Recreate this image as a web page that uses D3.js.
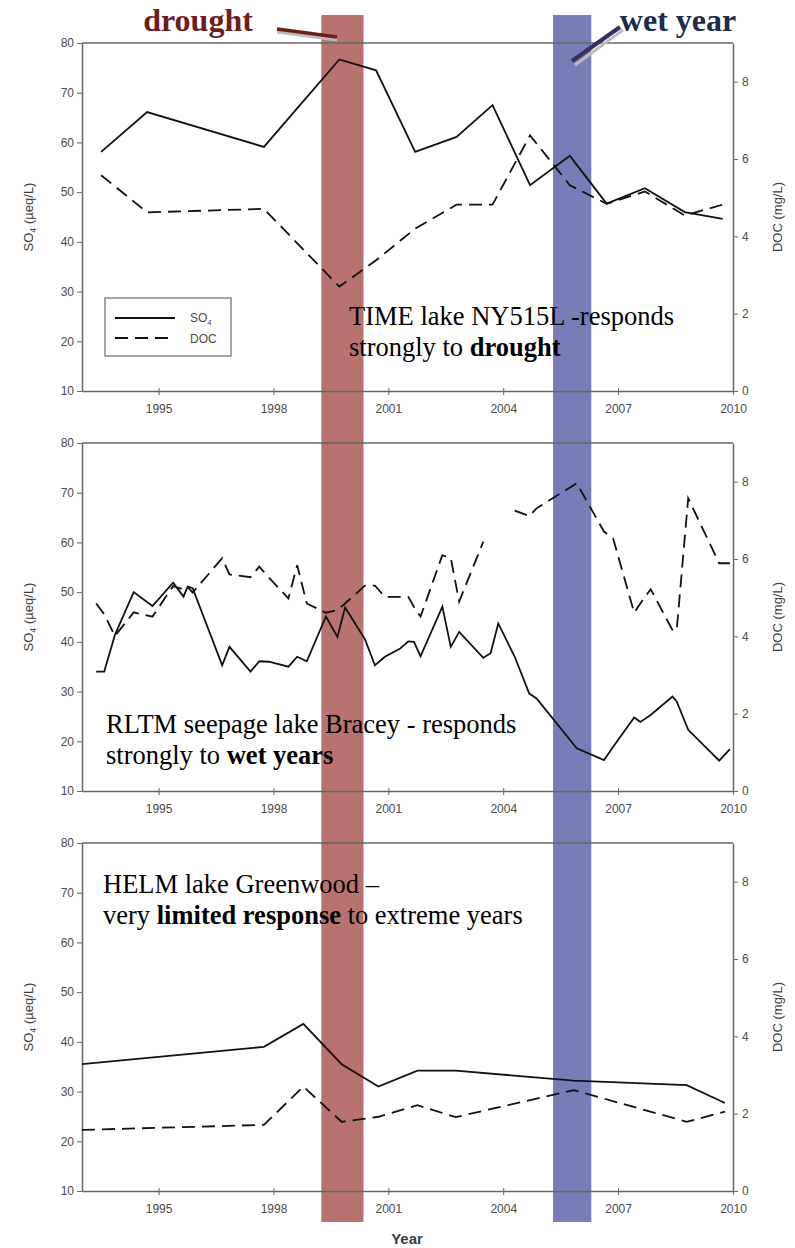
<!DOCTYPE html>
<html>
<head>
<meta charset="utf-8">
<script src="https://cdn.jsdelivr.net/npm/d3@7"></script>
<style>
  html, body { margin: 0; padding: 0; background: #fff; }
  svg { display: block; }
  .tick text { font-family: "Liberation Sans", Arial, sans-serif; font-size: 12px; fill: #4a4a4a; }
  .tick line, .domain { stroke: #666; }
</style>
</head>
<body>
<svg id="chart" width="795" height="1248"></svg>
<script>
// ---- Data -------------------------------------------------------------
const yearTicks = [1995, 1998, 2001, 2004, 2007, 2010];
const so4Ticks = [10, 20, 30, 40, 50, 60, 70, 80];
const docTicks = [0, 2, 4, 6, 8];

// Extreme-year bands (decimal years)
const droughtBand = [1999.25, 2000.35];
const wetBand = [2005.3, 2006.3];

// TIME lake NY515L
const timeYears = [1993.5, 1994.7, 1997.75, 1999.72, 2000.68, 2001.7, 2002.78, 2003.72, 2004.7, 2005.74, 2006.7, 2007.7, 2008.74, 2009.73];
const timeSO4 = [58.1, 66.1, 59.1, 76.7, 74.5, 58.1, 61.1, 67.5, 51.4, 57.3, 47.7, 50.8, 46.0, 44.6];
const timeDOC = [5.58, 4.62, 4.71, 2.70, 3.38, 4.2, 4.82, 4.82, 6.61, 5.32, 4.84, 5.16, 4.54, 4.82];

// RLTM seepage lake Bracey
const rltmYears = [1993.37, 1993.58, 1993.86, 1994.35, 1994.84, 1995.38, 1995.65, 1995.76, 1995.89, 1996.66,
  1996.85, 1997.4, 1997.63, 1997.88, 1998.39, 1998.62, 1998.87, 1999.37, 1999.67, 1999.87,
  2000.39, 2000.65, 2000.91, 2001.3, 2001.52, 2001.67, 2001.84, 2002.41, 2002.63, 2002.85,
  2003.48, 2003.67, 2003.87, 2004.3, 2004.68, 2004.87, 2005.92, 2006.63, 2006.87, 2007.42,
  2007.58, 2007.85, 2008.42, 2008.53, 2008.83, 2009.64, 2009.92];
const rltmSO4 = [34.0, 34.0, 41.4, 50.0, 47.2, 51.9, 49.1, 51.1, 50.8, 35.3,
  39.0, 34.0, 36.1, 36.0, 35.0, 37.0, 36.1, 45.1, 41.0, 46.9,
  40.5, 35.3, 37.0, 38.6, 40.1, 40.0, 37.1, 47.1, 39.0, 42.0,
  36.8, 37.7, 43.7, 37.0, 29.6, 28.6, 18.6, 16.2, 18.9, 24.8,
  23.9, 25.3, 29.0, 28.0, 22.3, 16.1, 18.4];
const rltmDOC = [4.85, 4.57, 4.01, 4.62, 4.51, 5.30, 5.21, 5.28, 5.13, 6.02,
  5.60, 5.53, 5.80, 5.52, 4.98, 5.84, 4.85, 4.61, 4.68, 4.85,
  5.31, 5.31, 5.02, 5.02, 5.02, 4.76, 4.51, 6.10, 6.02, 4.90,
  6.45, null, null, 7.25, 7.11, 7.31, 7.96, 6.71, 6.53, 4.61,
  4.85, 5.22, 4.16, 4.16, 7.57, 5.89, 5.89];

// HELM lake Greenwood
const helmYears = [1993.0, 1997.75, 1998.78, 1999.78, 2000.74, 2001.76, 2002.76, 2005.84, 2008.79, 2009.79];
const helmSO4 = [35.5, 39.0, 43.6, 35.5, 31.0, 34.2, 34.2, 32.2, 31.3, 27.7];
const helmDOC = [1.58, 1.71, 2.70, 1.79, 1.92, 2.22, 1.91, 2.61, 1.79, 2.05];

// ---- Layout -----------------------------------------------------------
const svg = d3.select("#chart");
const left = 82, right = 733, panelH = 348;
const panelTops = [43, 443, 843];
const bandTop = 15, bandBottom = 1222;

const x = d3.scaleLinear().domain([1993, 2010]).range([left, right]);

const panels = [
  { years: timeYears, so4: timeSO4, doc: timeDOC,
    text: [[{t: "TIME lake NY515L -responds"}], [{t: "strongly to "}, {t: "drought", b: true}]],
    tx: 349, ty: 282 },
  { years: rltmYears, so4: rltmSO4, doc: rltmDOC,
    text: [[{t: "RLTM seepage lake Bracey - responds"}], [{t: "strongly to "}, {t: "wet years", b: true}]],
    tx: 106, ty: 290 },
  { years: helmYears, so4: helmSO4, doc: helmDOC,
    text: [[{t: "HELM lake Greenwood \u2013"}], [{t: "very "}, {t: "limited response", b: true}, {t: " to extreme years"}]],
    tx: 103, ty: 50 }
];

// ---- Extreme-year bands -----------------------------------------------
svg.append("rect")
  .attr("x", x(droughtBand[0])).attr("width", x(droughtBand[1]) - x(droughtBand[0]))
  .attr("y", bandTop).attr("height", bandBottom - bandTop)
  .attr("fill", "rgb(184,114,111)");
svg.append("rect")
  .attr("x", x(wetBand[0])).attr("width", x(wetBand[1]) - x(wetBand[0]))
  .attr("y", bandTop).attr("height", bandBottom - bandTop)
  .attr("fill", "rgb(123,123,184)");

// ---- Panels -----------------------------------------------------------
panels.forEach((p, i) => {
  const top = panelTops[i], bottom = top + panelH;
  const yL = d3.scaleLinear().domain([10, 80]).range([bottom, top]);
  const yR = d3.scaleLinear().domain([0, 9]).range([bottom, top]);
  const g = svg.append("g");

  // frame top
  g.append("line").attr("x1", left).attr("x2", right).attr("y1", top).attr("y2", top)
    .attr("stroke", "#666").attr("stroke-width", 1.5);

  // left axis
  g.append("g").attr("transform", `translate(${left},0)`)
    .call(d3.axisLeft(yL).tickValues(so4Ticks).tickSize(5).tickSizeOuter(0).tickPadding(3))
    .call(a => a.select(".domain").attr("stroke-width", 1.5));

  // right axis
  g.append("g").attr("transform", `translate(${right},0)`)
    .call(d3.axisRight(yR).tickValues(docTicks).tickSize(5).tickSizeOuter(0).tickPadding(4))
    .call(a => a.select(".domain").attr("stroke-width", 1.5));

  // bottom axis
  const xa = g.append("g").attr("transform", `translate(0,${bottom})`)
    .call(d3.axisBottom(x).tickValues(yearTicks).tickFormat(d3.format("d")).tickSize(4).tickSizeOuter(0).tickPadding(9))
    .call(a => a.select(".domain").attr("stroke-width", 1.5));
  xa.selectAll(".tick line").attr("y1", -3);

  // axis titles
  const lt = g.append("text")
    .attr("transform", `translate(33,${(top + bottom) / 2}) rotate(-90)`)
    .attr("text-anchor", "middle")
    .attr("font-family", "Liberation Sans, Arial, sans-serif").attr("font-size", 13).attr("fill", "#3c3c3c");
  lt.append("tspan").text("SO");
  lt.append("tspan").text("4").attr("font-size", 9).attr("dy", 3);
  lt.append("tspan").text(" (\u00b5eq/L)").attr("dy", -3);

  g.append("text")
    .attr("transform", `translate(782,${(top + bottom) / 2}) rotate(-90)`)
    .attr("text-anchor", "middle")
    .attr("font-family", "Liberation Sans, Arial, sans-serif").attr("font-size", 13).attr("fill", "#3c3c3c")
    .text("DOC (mg/L)");

  // series lines
  const pts = p.years.map((yr, k) => ({ yr, so4: p.so4[k], doc: p.doc[k] }));
  g.append("path").datum(pts)
    .attr("fill", "none").attr("stroke", "#111").attr("stroke-width", 1.8)
    .attr("d", d3.line().x(d => x(d.yr)).y(d => yL(d.so4)));
  g.append("path").datum(pts)
    .attr("fill", "none").attr("stroke", "#111").attr("stroke-width", 1.8)
    .attr("stroke-dasharray", "13,7")
    .attr("d", d3.line().defined(d => d.doc != null).x(d => x(d.yr)).y(d => yR(d.doc)));

  // panel annotation
  p.text.forEach((line, li) => {
    const t = g.append("text")
      .attr("x", p.tx).attr("y", top + p.ty + li * 31)
      .attr("font-family", "Liberation Serif, Times New Roman, serif").attr("font-size", 26.5).attr("fill", "#000");
    line.forEach(s => t.append("tspan").text(s.t).attr("font-weight", s.b ? "bold" : "normal"));
  });
});

// ---- Legend (first panel) ----------------------------------------------
const lg = svg.append("g");
lg.append("rect").attr("x", 105).attr("y", 298).attr("width", 126).attr("height", 58)
  .attr("fill", "#fff").attr("stroke", "#888").attr("stroke-width", 1.5);
lg.append("line").attr("x1", 115).attr("x2", 175).attr("y1", 318).attr("y2", 318)
  .attr("stroke", "#111").attr("stroke-width", 1.8);
lg.append("line").attr("x1", 115).attr("x2", 175).attr("y1", 338).attr("y2", 338)
  .attr("stroke", "#111").attr("stroke-width", 1.8).attr("stroke-dasharray", "13,7");
const ls = lg.append("text").attr("x", 190).attr("y", 322)
  .attr("font-family", "Liberation Sans, Arial, sans-serif").attr("font-size", 12).attr("fill", "#4a4a4a");
ls.append("tspan").text("SO");
ls.append("tspan").text("4").attr("font-size", 8).attr("dy", 3);
lg.append("text").attr("x", 190).attr("y", 343)
  .attr("font-family", "Liberation Sans, Arial, sans-serif").attr("font-size", 12).attr("fill", "#4a4a4a")
  .text("DOC");

// ---- X axis title ------------------------------------------------------
svg.append("text").attr("x", 407).attr("y", 1244).attr("text-anchor", "middle")
  .attr("font-family", "Liberation Sans, Arial, sans-serif").attr("font-size", 15).attr("fill", "#3c3c3c")
  .attr("font-weight", "bold").text("Year");

// ---- Event callouts ----------------------------------------------------
svg.append("text").attr("x", 198).attr("y", 31).attr("text-anchor", "middle")
  .attr("font-family", "Liberation Serif, Times New Roman, serif").attr("font-size", 32)
  .attr("font-weight", "bold").attr("fill", "#6e1d1d").text("drought");
svg.append("line").attr("x1", 277).attr("y1", 30).attr("x2", 337).attr("y2", 38)
  .attr("stroke", "#bbb").attr("stroke-width", 3).attr("transform", "translate(0,2)");
svg.append("line").attr("x1", 277).attr("y1", 29).attr("x2", 337).attr("y2", 37)
  .attr("stroke", "#6e1d1d").attr("stroke-width", 3.5);

svg.append("text").attr("x", 678).attr("y", 31).attr("text-anchor", "middle")
  .attr("font-family", "Liberation Serif, Times New Roman, serif").attr("font-size", 32)
  .attr("font-weight", "bold").attr("fill", "#1d2b4d").text("wet year");
svg.append("line").attr("x1", 574).attr("y1", 63).attr("x2", 622).attr("y2", 28)
  .attr("stroke", "#bbb").attr("stroke-width", 3).attr("transform", "translate(1,2)");
svg.append("line").attr("x1", 572).attr("y1", 61).attr("x2", 620).attr("y2", 27)
  .attr("stroke", "#3b2d5e").attr("stroke-width", 4);
</script>
</body>
</html>
